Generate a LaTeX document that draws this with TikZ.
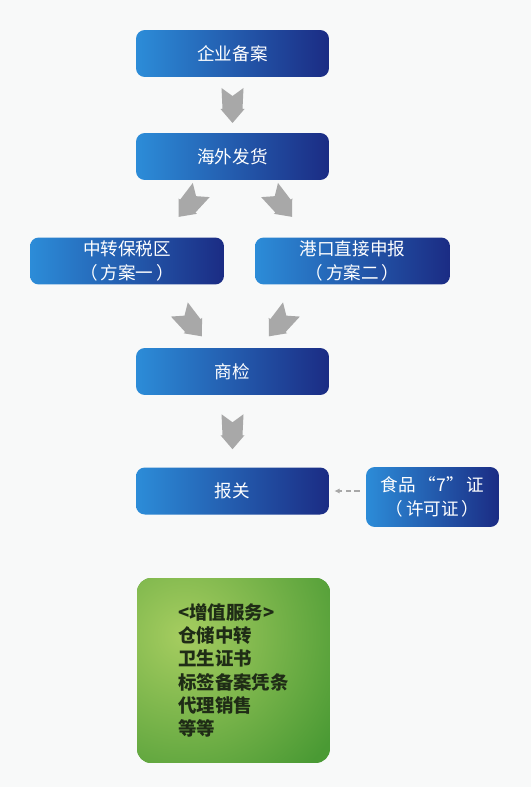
\documentclass[tikz,border=0pt]{standalone}
\usepackage{fontspec}
\newfontfamily\cjk{Noto Sans CJK SC}
\usepackage{xcolor}
\usetikzlibrary{arrows.meta,calc}

\definecolor{boxlight}{HTML}{2C8CD8}
\definecolor{boxdark}{HTML}{1B2C84}
\definecolor{greenlight}{HTML}{A6CD60}
\definecolor{greendark}{HTML}{4A9A34}
\definecolor{greentext}{HTML}{1F2C16}
\definecolor{arrowgray}{HTML}{A8A8A8}
\definecolor{paper}{HTML}{F8F9F9}

% gray block arrow: position, rotation
\newcommand{\flowarrow}[2]{%
  \fill[arrowgray,shift={#1},rotate=#2]
    (-11,-17) -- (0,-9) -- (11,-17) -- (10,4) -- (12,4)
    -- (0,18) -- (-12,4) -- (-10,4) -- cycle;}

\begin{document}
\begin{tikzpicture}[
  x=0.02cm,y=-0.02cm,
  stepbox/.style={rounded corners=5pt,left color=boxlight,right color=boxdark,
    text=white,font=\cjk\fontsize{10}{13.3}\selectfont,align=center,
    minimum width=3.86cm,minimum height=0.94cm,inner sep=0pt},
  sidebox/.style={stepbox,minimum width=2.66cm,minimum height=1.2cm},
  servicebox/.style={rounded corners=8pt,fill=greendark,
    path picture={\shade[inner color=greenlight,outer color=greendark]
      ($(path picture bounding box.center)+(-50,-35)$) circle (3.6cm);},
    text=greentext,font=\cjk\bfseries\fontsize{10.5}{13.3}\selectfont,align=left,
    minimum width=3.86cm,minimum height=3.7cm,inner sep=0pt},
  dashflow/.style={arrowgray,densely dashed,semithick,
    -{Latex[length=3pt,width=3pt]},shorten <=0.12cm,shorten >=0.1cm}
]
  \fill[paper] (0,0) rectangle (531,787);
  \useasboundingbox (0,0) rectangle (531,787);

  \node[stepbox] (filing) at (232.5,53.5) {企业备案};
  \node[stepbox] (shipping) at (232.5,156.5) {海外发货};
  \node[stepbox,minimum width=3.88cm] (bonded) at (127,261) {中转保税区\\（\,方案一\,）};
  \node[stepbox,minimum width=3.9cm] (port) at (352.5,261) {港口直接申报\\（\,方案二\,）};
  \node[stepbox] (inspection) at (232.5,371.5) {商检};
  \node[stepbox] (customs) at (232.5,491) {报关};
  \node[sidebox] (license) at (432.5,497) {食品\,“7”\,证\\（\,许可证\,）};
  \node[servicebox] (services) at (233.5,670.5)
    {<增值服务>\\仓储中转\\卫生证书\\标签备案凭条\\代理销售\\等等};

  \flowarrow{($(filing.south)!0.5!(shipping.north)$)}{0}
  \flowarrow{($(shipping.south)!0.4!(bonded.north)$)}{-40}
  \flowarrow{($(shipping.south)!0.4!(port.north)$)}{40}
  \flowarrow{($(bonded.south)!0.6!(inspection.north)$)}{40}
  \flowarrow{($(port.south)!0.6!(inspection.north)$)}{-40}
  \flowarrow{($(inspection.south)!0.5!(customs.north)$)}{0}

  \draw[dashflow] (license.west |- customs) -- (customs.east);
\end{tikzpicture}
\end{document}
